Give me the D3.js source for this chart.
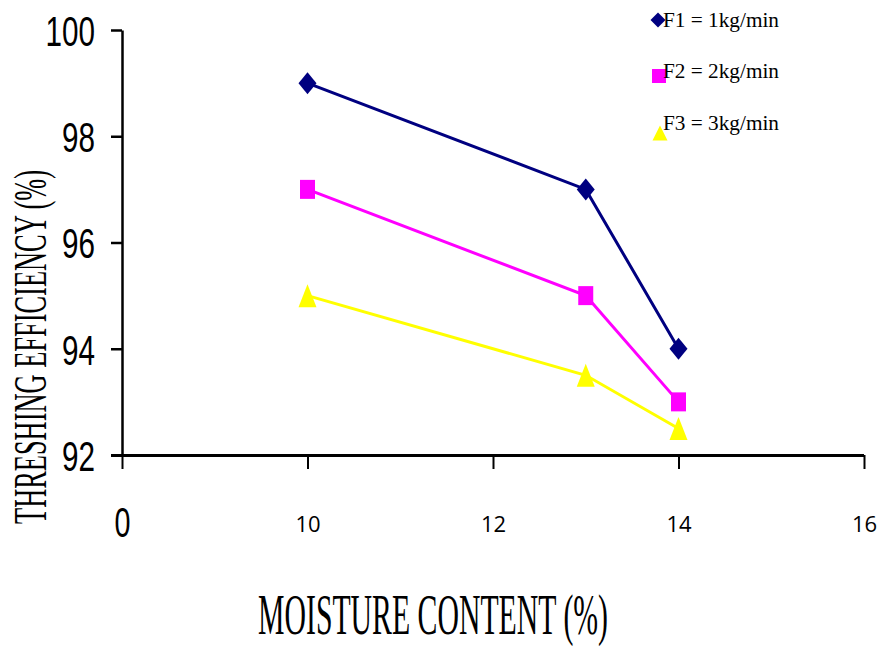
<!DOCTYPE html>
<html>
<head>
<meta charset="utf-8">
<script src="https://cdn.jsdelivr.net/npm/d3@7"></script>
<style>
body { margin: 0; background: #fff; }
svg { display: block; }
</style>
</head>
<body>
<svg width="888" height="647"></svg>
<script>
// data
const moisture = [10, 13, 14];
const f1 = [99, 97, 94];
const f2 = [97, 95, 93];
const f3 = [95, 93.5, 92.5];
const xTicks = [8, 10, 12, 14, 16];
const xTickLabels = ["0", "10", "12", "14", "16"];
const yTicks = [92, 94, 96, 98, 100];
const seriesNames = ["F1 = 1kg/min", "F2 = 2kg/min", "F3 = 3kg/min"];

let svg = d3.select("svg");

const x = d3.scaleLinear().domain([8, 16]).range([122, 864]);
const y = d3.scaleLinear().domain([92, 100]).range([455, 30]);

// marker shapes with their own width / height
function diamond(w, h) {
	return { draw(c) { c.moveTo(0, -h / 2); c.lineTo(w / 2, 0); c.lineTo(0, h / 2); c.lineTo(-w / 2, 0); c.closePath(); } };
}
function rect(w, h) {
	return { draw(c) { c.rect(-w / 2, -h / 2, w, h); } };
}
function triangle(w, h) {
	return { draw(c) { c.moveTo(0, -h / 2); c.lineTo(w / 2, h / 2); c.lineTo(-w / 2, h / 2); c.closePath(); } };
}

const series = [
	{ name: seriesNames[0], values: f1, color: "#000080", mark: diamond(18, 22), legendMark: diamond(15, 15) },
	{ name: seriesNames[1], values: f2, color: "#ff00ff", mark: rect(15, 19), legendMark: rect(14, 14) },
	{ name: seriesNames[2], values: f3, color: "#ffff00", mark: triangle(18, 23), legendMark: triangle(15, 15) }
];

// x axis
let xAxis = svg.append("g")
	.attr("transform", "translate(0,455)")
	.call(d3.axisBottom(x).tickValues(xTicks).tickSize(14).tickSizeOuter(0)
		.tickFormat((d, i) => xTickLabels[i]));
xAxis.select(".domain").attr("d", "M111,0.5H864").attr("stroke-width", 3);
xAxis.selectAll(".tick line").attr("stroke-width", 2);
xAxis.selectAll(".tick text")
	.attr("y", 61)
	.style("font-family", "'Open Sans', sans-serif")
	.style("font-size", "22px")
	.attr("fill", "#000");
xAxis.selectAll(".tick text").filter((d, i) => i === 0)
	.attr("y", 52)
	.attr("textLength", 16)
	.attr("lengthAdjust", "spacingAndGlyphs")
	.style("font-family", "'Liberation Sans', sans-serif")
	.style("font-size", "42px");

// y axis
let yAxis = svg.append("g")
	.attr("transform", "translate(122,0)")
	.call(d3.axisLeft(y).tickValues(yTicks).tickSize(11).tickSizeOuter(0));
yAxis.select(".domain").attr("stroke-width", 2.5);
yAxis.selectAll(".tick line").attr("stroke-width", 2.5);
yAxis.selectAll(".tick text")
	.attr("x", -27)
	.attr("dy", "0.36em")
	.attr("textLength", d => String(d).length * 16.5)
	.attr("lengthAdjust", "spacingAndGlyphs")
	.style("font-family", "'Liberation Sans', sans-serif")
	.style("font-size", "43px")
	.attr("fill", "#000");

// lines and markers
const line = d3.line()
	.x((d, i) => x(moisture[i]))
	.y(d => y(d));

series.forEach(s => {
	svg.append("path")
		.datum(s.values)
		.attr("fill", "none")
		.attr("stroke", s.color)
		.attr("stroke-width", 3)
		.attr("d", line);

	svg.append("g").selectAll("path")
		.data(s.values)
		.enter().append("path")
		.attr("d", d3.symbol().type(s.mark))
		.attr("transform", (d, i) => "translate(" + x(moisture[i]) + "," + y(d) + ")")
		.attr("fill", s.color);
});

// legend
const legendTextY = [27, 78, 130];
const legendMarkX = [658, 659, 660];
const legendMarkY = [20, 76, 133];
let legend = svg.append("g").selectAll("g")
	.data(series)
	.enter().append("g");

legend.append("path")
	.attr("d", d => d3.symbol().type(d.legendMark)())
	.attr("transform", (d, i) => "translate(" + legendMarkX[i] + "," + legendMarkY[i] + ")")
	.attr("fill", d => d.color);

legend.append("text")
	.attr("x", 663)
	.attr("y", (d, i) => legendTextY[i])
	.attr("textLength", 116)
	.attr("lengthAdjust", "spacingAndGlyphs")
	.style("font-family", "'Liberation Serif', 'Times New Roman', serif")
	.style("font-size", "20px")
	.attr("fill", "#000")
	.text(d => d.name);

// axis titles
svg.append("text")
	.attr("x", 258)
	.attr("y", 634)
	.attr("textLength", 350)
	.attr("lengthAdjust", "spacingAndGlyphs")
	.style("font-family", "'Liberation Serif', 'Times New Roman', serif")
	.style("font-size", "56px")
	.attr("fill", "#000")
	.text("MOISTURE CONTENT (%)");

svg.append("text")
	.attr("transform", "translate(46,524) rotate(-90)")
	.attr("textLength", 354)
	.attr("lengthAdjust", "spacingAndGlyphs")
	.style("font-family", "'Liberation Serif', 'Times New Roman', serif")
	.style("font-size", "46px")
	.attr("fill", "#000")
	.text("THRESHING EFFICIENCY (%)");
</script>
</body>
</html>
